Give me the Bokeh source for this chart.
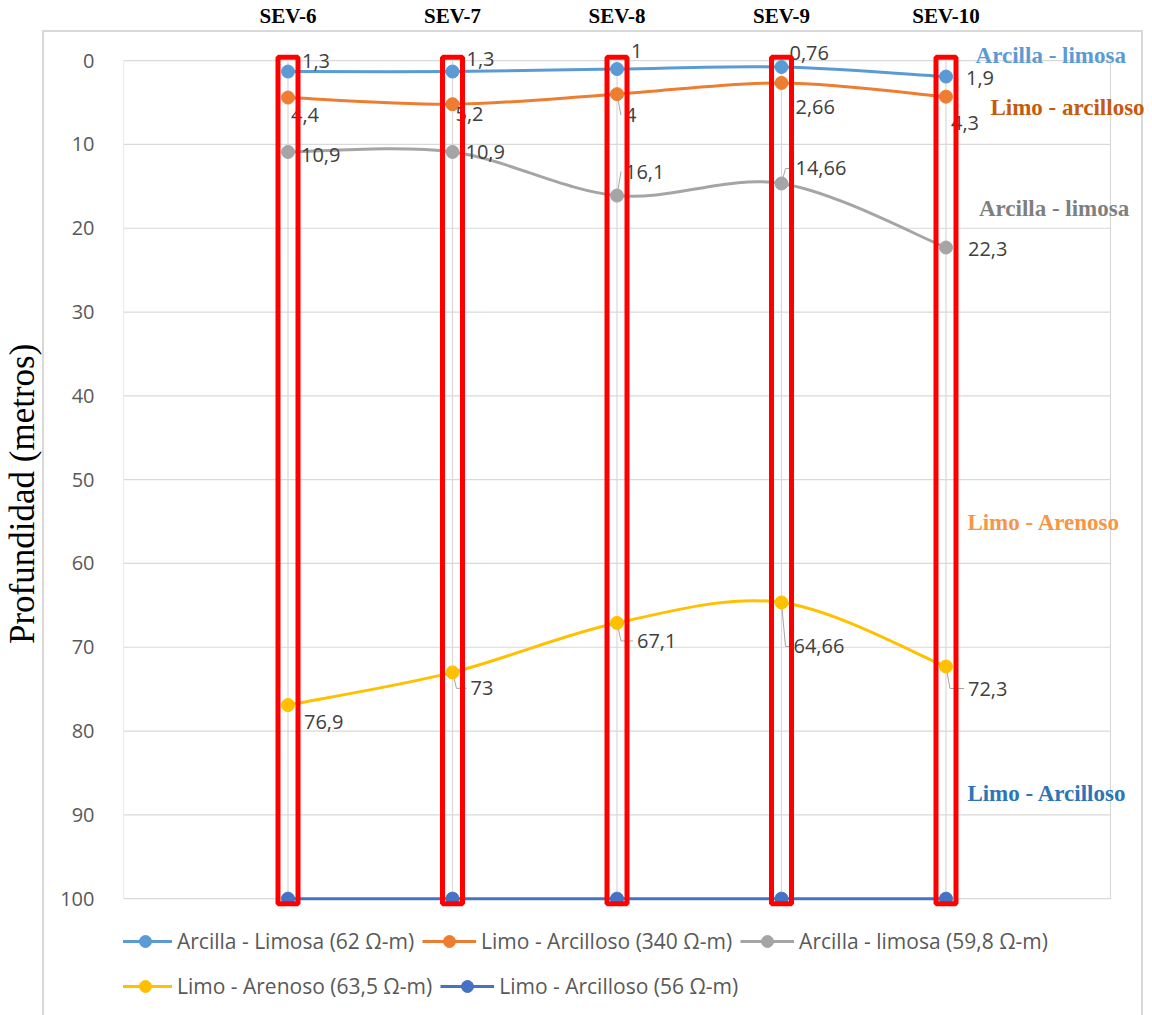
from bokeh.plotting import figure
from bokeh.models import Range1d, FixedTicker, Legend, LegendItem, Label
from bokeh.core.properties import value
from bokeh.embed import file_html
from bokeh.resources import INLINE

# ---------------- data ----------------
sondeos = ["SEV-6", "SEV-7", "SEV-8", "SEV-9", "SEV-10"]
arcilla_limosa_62 = [1.3, 1.3, 1.0, 0.76, 1.9]
limo_arcilloso_340 = [4.4, 5.2, 4.0, 2.66, 4.3]
arcilla_limosa_598 = [10.9, 10.9, 16.1, 14.66, 22.3]
limo_arenoso_635 = [76.9, 73.0, 67.1, 64.66, 72.3]
limo_arcilloso_56 = [100, 100, 100, 100, 100]
series_names = ["Arcilla - Limosa (62 Ω-m)", "Limo - Arcilloso (340 Ω-m)",
                "Arcilla - limosa (59,8 Ω-m)", "Limo - Arenoso (63,5 Ω-m)",
                "Limo - Arcilloso (56 Ω-m)"]
y_ticks = [0, 10, 20, 30, 40, 50, 60, 70, 80, 90, 100]
y_title = "Profundidad (metros)"
capas = ["Arcilla - limosa", "Limo - arcilloso", "Arcilla - limosa",
         "Limo - Arenoso", "Limo - Arcilloso"]

# ---------------- styles ----------------
colors = ["#5B9BD5", "#ED7D31", "#A5A5A5", "#FFC000", "#4472C4"]
# data-label offsets in screen px (dx, dy; dy positive = down)
label_offsets = [
    [(14, -11), (14, -13), (14, -18), (8, -14), (20, 1)],
    [(3, 17), (3, 10), (8, 21), (14, 24), (5, 26)],
    [(13, 3), (13, 0), (8, -24), (14, -15), (22, 1)],
    [(16, 17), (18, 16), (20, 18), (12, 44), (22, 22)],
    None,
]
leader_flags = [
    [0, 0, 0, 0, 0],
    [0, 0, 1, 0, 0],
    [0, 0, 1, 1, 0],
    [0, 1, 1, 1, 1],
    None,
]
capa_colors = ["#5B9BD5", "#C55A11", "#7F7F7F", "#F79646", "#2E75B6"]
capa_pos = [(10.18, -0.6), (10.27, 5.6), (10.20, 17.7), (10.13, 55.1), (10.13, 87.5)]
PX_X = 164.5   # screen px per x unit
PX_Y = 8.38    # screen px per y unit

xs = [i + 6 for i in range(len(sondeos))]
all_series = [arcilla_limosa_62, limo_arcilloso_340, arcilla_limosa_598,
              limo_arenoso_635, limo_arcilloso_56]
x_lo, x_hi = xs[0] - 1, xs[-1] + 1
y_lo, y_hi = y_ticks[0], y_ticks[-1]

p = figure(width=1152, height=1015, output_backend="svg", toolbar_location=None,
           x_range=Range1d(x_lo, x_lo + 1027 / PX_X),
           y_range=Range1d(y_lo + 978 / PX_Y - 3.0, y_lo - 3.0),
           x_axis_location="above",
           min_border_left=123, min_border_right=2,
           min_border_top=35, min_border_bottom=2)

p.background_fill_alpha = 0
p.border_fill_alpha = 0
p.outline_line_color = None
p.styles = {
    "background-color": "white",
    "background-image": ("linear-gradient(#D9D9D9,#D9D9D9), linear-gradient(#D9D9D9,#D9D9D9), "
                         "linear-gradient(#D9D9D9,#D9D9D9)"),
    "background-size": "1101px 2px, 2px 1000px, 2px 1000px",
    "background-position": "42px 30px, 42px 30px, 1141px 30px",
    "background-repeat": "no-repeat",
}

# axes
ya = p.yaxis[0]
ya.ticker = FixedTicker(ticks=y_ticks)
ya.axis_line_color = None
ya.major_tick_line_color = None
ya.minor_tick_line_color = None
ya.major_label_text_font = "Open Sans"
ya.major_label_text_font_size = "20px"
ya.major_label_text_color = "#595959"
ya.major_label_standoff = 23
# leading no-break spaces move the centred title up, as in the original
ya.axis_label = "\u00a0" * 7 + y_title
ya.axis_label_text_font = "Liberation Serif"
ya.axis_label_text_font_style = "normal"
ya.axis_label_text_font_size = "35px"
ya.axis_label_text_color = "black"
ya.axis_label_standoff = 15

xa = p.xaxis[0]
xa.ticker = FixedTicker(ticks=xs)
xa.major_label_overrides = {x: s for x, s in zip(xs, sondeos)}
xa.axis_line_color = None
xa.major_tick_line_color = None
xa.minor_tick_line_color = None
xa.major_label_text_font = "Liberation Serif"
xa.major_label_text_font_style = "bold"
xa.major_label_text_font_size = "21px"
xa.major_label_text_color = "black"
xa.major_label_standoff = 2

p.xgrid.grid_line_color = None
p.ygrid.grid_line_color = None

# grid + plot-area box
GRID = "#D9D9D9"
p.segment(x0=[x_lo] * len(y_ticks), x1=[x_hi] * len(y_ticks), y0=y_ticks, y1=y_ticks,
          line_color=GRID, line_width=1.2)
p.segment(x0=[x_lo, x_hi] + xs, x1=[x_lo, x_hi] + xs, y0=[y_lo] * (len(xs) + 2),
          y1=[y_hi] * (len(xs) + 2), line_color=GRID, line_width=1.2)


def bezier_ctrl(x, y):
    n = len(x)
    d = dict(x0=[], y0=[], x1=[], y1=[], cx0=[], cy0=[], cx1=[], cy1=[])
    for i in range(n - 1):
        im = max(i - 1, 0)
        ip2 = min(i + 2, n - 1)
        d["x0"].append(x[i]); d["y0"].append(y[i])
        d["x1"].append(x[i + 1]); d["y1"].append(y[i + 1])
        d["cx0"].append(x[i] + (x[i + 1] - x[im]) / 6.0)
        d["cy0"].append(y[i] + (y[i + 1] - y[im]) / 6.0)
        d["cx1"].append(x[i + 1] - (x[ip2] - x[i]) / 6.0)
        d["cy1"].append(y[i + 1] - (y[ip2] - y[i]) / 6.0)
    return d


# leader lines
lx, ly = [], []
for k, vals in enumerate(all_series):
    offs, flags = label_offsets[k], leader_flags[k]
    if offs is None:
        continue
    for x, v, (dx, dy), f in zip(xs, vals, offs, flags):
        if f:
            yl = v + dy / PX_Y
            lx.append([x, x + 4 / PX_X, x + (dx - 4) / PX_X])
            ly.append([v, yl, yl])
p.multi_line(lx, ly, line_color="#A6A6A6", line_width=1)

items = []
for k, (vals, col, name) in enumerate(zip(all_series, colors, series_names)):
    b = p.bezier(line_color=col, line_width=3, **bezier_ctrl(xs, vals))
    s = p.scatter(xs, vals, size=13, fill_color=col, line_color=col)
    items.append(LegendItem(label=name, renderers=[b, s]))
    offs = label_offsets[k]
    if offs is not None:
        p.text(x=xs, y=vals, text=[f"{v:g}".replace(".", ",") for v in vals],
               x_offset=[o[0] for o in offs], y_offset=[o[1] for o in offs],
               text_font=value("Open Sans"), text_font_size="20px",
               text_color="#404040", text_baseline="middle", text_align="left")

# red highlight boxes
p.rect(x=xs, y=[(y_lo + y_hi) / 2 + 0.1] * len(xs), width=20, width_units="screen",
       height=(y_hi - y_lo) + 1.0, fill_alpha=0, line_color="#FF0000", line_width=5)

# layer labels on the right
for txt, col, (lxp, lyp) in zip(capas, capa_colors, capa_pos):
    p.add_layout(Label(x=lxp, y=lyp, text=txt, text_font="Liberation Serif",
                       text_font_style="bold", text_font_size="23px", text_color=col,
                       text_baseline="middle", text_align="left"))


def mk_legend(its, loc):
    return Legend(items=its, location=loc, orientation="horizontal",
                  glyph_width=54, glyph_height=30, label_height=30, label_standoff=5,
                  spacing=8, padding=0, margin=0, border_line_color=None,
                  background_fill_alpha=0, label_text_font="Open Sans",
                  label_text_font_size="21px", label_text_color="#595959")


p.add_layout(mk_legend(items[:3], (-5, 57)))
p.add_layout(mk_legend(items[3:], (-5, 12)))

open("out.html", "w").write(file_html(p, INLINE))
